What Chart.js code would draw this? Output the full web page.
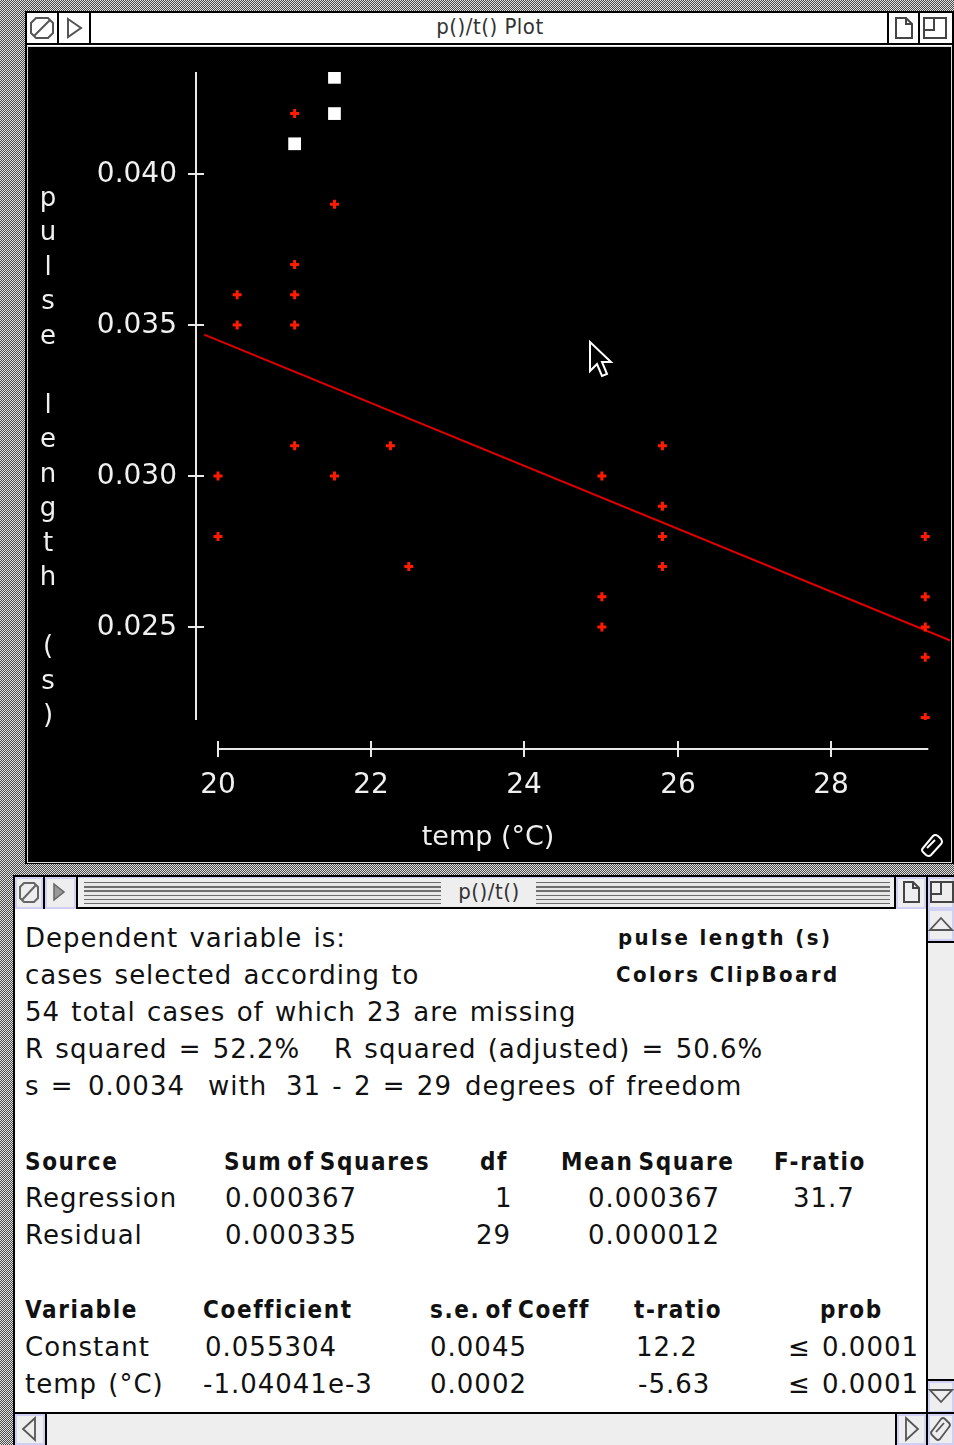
<!DOCTYPE html>
<html>
<head>
<meta charset="utf-8">
<script src="https://cdn.jsdelivr.net/npm/chart.js@4/dist/chart.umd.min.js"></script>
<style>
  body {
    margin: 0;
    width: 954px;
    height: 1445px;
    position: relative;
    overflow: hidden;
    background: repeating-conic-gradient(#4a4a4a 0 25%, #e0e0e0 0 50%) 0 0 / 2px 2px;
    font-family: "DejaVu Sans", sans-serif;
  }
  .abs { position: absolute; }
  .box { position: absolute; box-sizing: border-box; }
  .title { font-family: "DejaVu Sans Condensed", "DejaVu Sans", sans-serif; font-size: 22px; letter-spacing: 0.5px; color: #333; }
  .t { position: absolute; font-size: 26px; letter-spacing: 1px; word-spacing: 2px; line-height: 30px; color: #111; white-space: pre; }
  .b { font-family: "DejaVu Sans Condensed", "DejaVu Sans", sans-serif; font-weight: bold; font-size: 24px; letter-spacing: 1.6px; word-spacing: -4px; }
  .stripes {
    position: absolute;
    background: repeating-linear-gradient(to bottom, #6d6d6d 0 1.5px, #e8e8e8 1.5px 4.2px);
  }
</style>
</head>
<body>

<!-- top window: plot -->
<div class="box" style="left:25px;top:11px;width:929px;height:853px;background:#fff;border:2px solid #000;"></div>
<div class="box" style="left:27px;top:13px;width:925px;height:32px;background:#fff;border-bottom:2px solid #000;"></div>
<div class="box" style="left:27px;top:13px;width:32px;height:32px;border-right:2px solid #000;">
  <svg width="30" height="30"><polygon points="9,5 21,5 26,10 26,20 21,25 9,25 4,20 4,10" fill="none" stroke="#555" stroke-width="2"/><line x1="7" y1="23" x2="23" y2="7" stroke="#555" stroke-width="2"/></svg>
</div>
<div class="box" style="left:59px;top:13px;width:32px;height:32px;border-right:2px solid #000;">
  <svg width="30" height="30"><polygon points="9,6 22,15 9,24" fill="none" stroke="#555" stroke-width="2"/></svg>
</div>
<div class="abs title" style="left:0;width:980px;top:14px;text-align:center;">p()/t() Plot</div>
<div class="box" style="left:887px;top:13px;width:33px;height:32px;border-left:2px solid #000;border-right:2px solid #000;">
  <svg width="30" height="30"><polygon points="7,5 17,5 23,11 23,25 7,25" fill="none" stroke="#444" stroke-width="2"/><polyline points="17,5 17,11 23,11" fill="none" stroke="#444" stroke-width="2"/></svg>
</div>
<div class="box" style="left:920px;top:13px;width:32px;height:32px;">
  <svg width="30" height="30"><rect x="4" y="5" width="22" height="20" fill="none" stroke="#444" stroke-width="2"/><polyline points="4,17 14,17 14,5" fill="none" stroke="#444" stroke-width="2"/></svg>
</div>
<div class="box" style="left:27px;top:46px;width:925px;height:817px;background:#d8d8d8;"></div>
<div class="abs" style="left:28px;top:47px;width:923px;height:815px;background:#000;">
  <canvas id="plot" width="923" height="815" style="display:block;"></canvas>
</div>
<!-- mouse pointer -->
<svg class="abs" style="left:588px;top:340px;" width="30" height="42">
  <path d="M2,2 L2,31 L9,24 L14,36 L19,34 L14,22 L23,22 Z" fill="#000" stroke="#fff" stroke-width="2" stroke-linejoin="miter"/>
</svg>
<!-- grow icon -->
<svg class="abs" style="left:918px;top:832px;" width="28" height="26">
  <path d="M5,16 L15,4 Q17,2 20,4 L23,7 Q25,10 23,12 L13,23 Q11,25 8,23 L5,20 Q3,18 5,16 Z" fill="none" stroke="#fff" stroke-width="2"/>
  <line x1="9" y1="16" x2="17" y2="8" stroke="#fff" stroke-width="2"/>
</svg>

<!-- bottom window: regression text -->
<div class="box" style="left:13px;top:875px;width:941px;height:570px;background:#fff;border-left:2px solid #000;border-top:2px solid #000;"></div>
<div class="box" style="left:15px;top:877px;width:939px;height:32px;background:#eeeeee;border-bottom:2px solid #000;box-shadow:inset 0 1px 0 #c8c8f0;"></div>
<div class="box" style="left:15px;top:877px;width:30px;height:32px;border-right:2px solid #000;box-shadow:inset 0 0 0 2px #d0d0f4;">
  <svg width="28" height="30"><polygon points="9,6 19,6 23,10 23,21 19,25 9,25 5,21 5,10" fill="none" stroke="#666" stroke-width="2"/><line x1="7" y1="23" x2="21" y2="8" stroke="#666" stroke-width="2"/></svg>
</div>
<div class="box" style="left:45px;top:877px;width:33px;height:32px;border-right:2px solid #000;box-shadow:inset 0 0 0 2px #d0d0f4;">
  <svg width="30" height="30"><polygon points="9,7 19,15 9,23" fill="#999" stroke="#666" stroke-width="1.5"/></svg>
</div>
<div class="stripes" style="left:84px;top:882px;width:357px;height:22px;"></div>
<div class="abs title" style="left:444px;top:879px;width:90px;text-align:center;">p()/t()</div>
<div class="stripes" style="left:536px;top:882px;width:354px;height:22px;"></div>
<div class="box" style="left:894px;top:877px;width:34px;height:32px;border-left:2px solid #000;border-right:2px solid #000;box-shadow:inset 0 0 0 2px #d0d0f4;">
  <svg width="30" height="30"><polygon points="8,5 17,5 23,11 23,25 8,25" fill="none" stroke="#444" stroke-width="2"/><polyline points="17,5 17,11 23,11" fill="none" stroke="#444" stroke-width="2"/></svg>
</div>
<div class="box" style="left:928px;top:877px;width:26px;height:32px;box-shadow:inset 0 0 0 2px #d0d0f4;">
  <svg width="26" height="30"><rect x="3" y="5" width="22" height="20" fill="none" stroke="#444" stroke-width="2"/><polyline points="3,17 13,17 13,5" fill="none" stroke="#444" stroke-width="2"/></svg>
</div>
<!-- vertical scroll bar -->
<div class="box" style="left:926px;top:909px;width:28px;height:504px;background:#eeeeee;border-left:2px solid #000;"></div>
<div class="box" style="left:928px;top:909px;width:26px;height:34px;border-bottom:2px solid #000;box-shadow:inset 0 0 0 2px #d0d0f4;">
  <svg width="26" height="32"><polygon points="13,9 24,21 2,21" fill="none" stroke="#555" stroke-width="1.8"/></svg>
</div>
<div class="box" style="left:928px;top:1379px;width:26px;height:34px;border-top:2px solid #000;box-shadow:inset 0 0 0 2px #d0d0f4;">
  <svg width="26" height="32"><polygon points="2,9 24,9 13,21" fill="none" stroke="#555" stroke-width="1.8"/></svg>
</div>
<!-- horizontal scroll bar -->
<div class="box" style="left:15px;top:1412px;width:939px;height:33px;background:#eeeeee;border-top:2px solid #000;"></div>
<div class="box" style="left:15px;top:1414px;width:32px;height:31px;border-right:2px solid #000;box-shadow:inset 0 0 0 2px #d0d0f4;">
  <svg width="30" height="31"><polygon points="20,4 8,15 20,26" fill="none" stroke="#555" stroke-width="1.8"/></svg>
</div>
<div class="box" style="left:895px;top:1414px;width:33px;height:31px;border-left:2px solid #000;border-right:2px solid #000;box-shadow:inset 0 0 0 2px #d0d0f4;">
  <svg width="30" height="31"><polygon points="9,4 21,15 9,26" fill="none" stroke="#555" stroke-width="1.8"/></svg>
</div>
<div class="box" style="left:928px;top:1414px;width:26px;height:31px;box-shadow:inset 0 0 0 2px #d0d0f4;">
  <svg width="26" height="31"><path d="M4,17 L13,5 Q15,3 17,5 L21,9 Q23,11 21,13 L12,25 Q10,27 8,25 L4,21 Q2,19 4,17 Z" fill="none" stroke="#555" stroke-width="1.8"/><line x1="8" y1="18" x2="16" y2="9" stroke="#555" stroke-width="1.8"/></svg>
</div>

<!-- regression output text -->
<div class="t" style="left:25px;top:923px;">Dependent variable is:</div>
<div class="t b" style="left:618px;top:923px;font-size:22px;letter-spacing:2.4px;word-spacing:0;">pulse length (s)</div>
<div class="t" style="left:25px;top:960px;">cases selected according to</div>
<div class="t b" style="left:616px;top:960px;font-size:22px;letter-spacing:2.4px;word-spacing:0;">Colors ClipBoard</div>
<div class="t" style="left:25px;top:997px;">54 total cases of which 23 are missing</div>
<div class="t" style="left:25px;top:1034px;">R squared = 52.2%</div>
<div class="t" style="left:334px;top:1034px;">R squared (adjusted) = 50.6%</div>
<div class="t" style="left:25px;top:1071px;">s =</div>
<div class="t" style="left:88px;top:1071px;">0.0034</div>
<div class="t" style="left:208px;top:1071px;">with</div>
<div class="t" style="left:286px;top:1071px;">31 - 2 = 29</div>
<div class="t" style="left:465px;top:1071px;">degrees of freedom</div>

<div class="t b" style="left:25px;top:1147px;">Source</div>
<div class="t b" style="left:224px;top:1147px;">Sum of Squares</div>
<div class="t b" style="left:480px;top:1147px;">df</div>
<div class="t b" style="left:561px;top:1147px;">Mean Square</div>
<div class="t b" style="left:774px;top:1147px;">F-ratio</div>
<div class="t" style="left:25px;top:1183px;">Regression</div>
<div class="t" style="left:225px;top:1183px;">0.000367</div>
<div class="t" style="left:495px;top:1183px;">1</div>
<div class="t" style="left:588px;top:1183px;">0.000367</div>
<div class="t" style="left:793px;top:1183px;">31.7</div>
<div class="t" style="left:25px;top:1220px;">Residual</div>
<div class="t" style="left:225px;top:1220px;">0.000335</div>
<div class="t" style="left:476px;top:1220px;">29</div>
<div class="t" style="left:588px;top:1220px;">0.000012</div>

<div class="t b" style="left:25px;top:1295px;">Variable</div>
<div class="t b" style="left:203px;top:1295px;">Coefficient</div>
<div class="t b" style="left:430px;top:1295px;">s.e. of Coeff</div>
<div class="t b" style="left:634px;top:1295px;">t-ratio</div>
<div class="t b" style="left:820px;top:1295px;">prob</div>
<div class="t" style="left:25px;top:1332px;">Constant</div>
<div class="t" style="left:205px;top:1332px;">0.055304</div>
<div class="t" style="left:430px;top:1332px;">0.0045</div>
<div class="t" style="left:636px;top:1332px;">12.2</div>
<div class="t" style="left:788px;top:1332px;">≤ 0.0001</div>
<div class="t" style="left:25px;top:1369px;">temp (°C)</div>
<div class="t" style="left:203px;top:1369px;">-1.04041e-3</div>
<div class="t" style="left:430px;top:1369px;">0.0002</div>
<div class="t" style="left:638px;top:1369px;">-5.63</div>
<div class="t" style="left:788px;top:1369px;">≤ 0.0001</div>

<script>
// data
const tempRed = [21, 21.52, 21, 20.25, 21, 20.25, 21, 21, 22.25, 20, 21.52, 20, 22.49,
                 25.8, 25.01, 25.8, 25.8, 25.8, 25.01, 25.01, 29.23, 29.23, 29.23, 29.23, 29.23];
const pulseRed = [0.042, 0.039, 0.037, 0.036, 0.036, 0.035, 0.035, 0.031, 0.031, 0.030, 0.030, 0.028, 0.027,
                  0.031, 0.030, 0.029, 0.028, 0.027, 0.026, 0.025, 0.028, 0.026, 0.025, 0.024, 0.022];
// selected cases (white squares)
const tempSel = [21.52, 21.52, 21];
const pulseSel = [0.0432, 0.042, 0.041];
// fitted line end points
const fitTemp = [19.82, 29.56];
const fitPulse = [0.03468, 0.02455];

const xTicks = [20, 22, 24, 26, 28];
const yTicks = [0.025, 0.030, 0.035, 0.040];
const yTickLabels = ['0.025', '0.030', '0.035', '0.040'];
const xTitle = 'temp (°C)';
const yTitle = 'pulse length (s)';
const xAxisEnd = 29.27;

function toPoints(xs, ys) {
    return xs.map((x, i) => ({ x: x, y: ys[i] }));
}

// Data Desk style offset axes, drawn from the chart's own scales
const axesPlugin = {
    id: 'ddAxes',
    afterDraw(chart) {
        const ctx = chart.ctx;
        const xs = chart.scales.x;
        const ys = chart.scales.y;
        const area = chart.chartArea;
        ctx.save();
        ctx.strokeStyle = '#e8e8e8';
        ctx.fillStyle = '#f0f0f0';
        ctx.lineWidth = 2;

        // y axis
        const ax = area.left;
        ctx.beginPath();
        ctx.moveTo(ax, area.top);
        ctx.lineTo(ax, area.bottom);
        ctx.stroke();
        ctx.font = '28px "DejaVu Sans"';
        ctx.textAlign = 'right';
        ctx.textBaseline = 'middle';
        yTicks.forEach((v, i) => {
            const py = Math.round(ys.getPixelForValue(v));
            ctx.beginPath();
            ctx.moveTo(ax - 8, py);
            ctx.lineTo(ax + 8, py);
            ctx.stroke();
            ctx.fillText(yTickLabels[i], ax - 19, py + 1);
        });

        // x axis
        const ay = area.bottom + 29;
        ctx.beginPath();
        ctx.moveTo(xs.getPixelForValue(xTicks[0]), ay);
        ctx.lineTo(xs.getPixelForValue(xAxisEnd), ay);
        ctx.stroke();
        ctx.textAlign = 'center';
        xTicks.forEach(v => {
            const px = Math.round(xs.getPixelForValue(v));
            ctx.beginPath();
            ctx.moveTo(px, ay - 8);
            ctx.lineTo(px, ay + 8);
            ctx.stroke();
            ctx.fillText(String(v), px, ay + 37);
        });
        ctx.font = '27px "DejaVu Sans"';
        ctx.fillText(xTitle, 460, ay + 89);

        // vertical stacked y title
        ctx.font = '26px "DejaVu Sans"';
        yTitle.split('').forEach((ch, i) => {
            ctx.fillText(ch, 20, 152 + i * 34.5);
        });
        ctx.restore();
    }
};

new Chart(document.getElementById('plot'), {
    type: 'scatter',
    data: {
        datasets: [
            {
                data: toPoints(tempSel, pulseSel),
                pointStyle: 'rect',
                pointRadius: 9,
                backgroundColor: '#ffffff',
                borderColor: '#ffffff',
                borderWidth: 0
            },
            {
                data: toPoints(tempRed, pulseRed),
                pointStyle: 'cross',
                pointRadius: 4.5,
                borderColor: '#ff1a00',
                borderWidth: 3
            },
            {
                type: 'line',
                data: toPoints(fitTemp, fitPulse),
                borderColor: '#e00000',
                borderWidth: 2,
                pointRadius: 0,
                fill: false
            }
        ]
    },
    options: {
        responsive: false,
        animation: false,
        events: [],
        layout: { autoPadding: false, padding: { left: 168, right: 1, top: 25, bottom: 142 } },
        scales: {
            x: { type: 'linear', display: false, min: 19.713, max: 29.553 },
            y: { type: 'linear', display: false, min: 0.021921, max: 0.043377 }
        },
        plugins: {
            legend: { display: false },
            tooltip: { enabled: false }
        }
    },
    plugins: [axesPlugin]
});
</script>
</body>
</html>
